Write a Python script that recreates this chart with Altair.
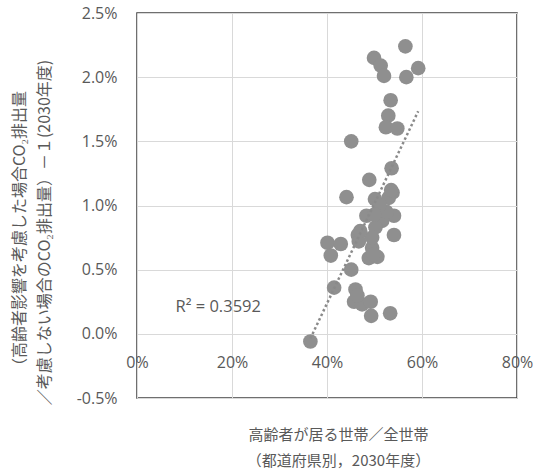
import altair as alt
import pandas as pd

# Share of households with elderly members (fraction) per prefecture
elderly_share = [
    0.565, 0.499, 0.513, 0.520, 0.567, 0.592, 0.534, 0.529, 0.524, 0.548,
    0.451, 0.536, 0.489, 0.441, 0.501, 0.538, 0.541, 0.483, 0.516, 0.502,
    0.465, 0.541, 0.401, 0.429, 0.408, 0.467, 0.495, 0.488, 0.506, 0.451,
    0.415, 0.460, 0.457, 0.474, 0.492, 0.493, 0.533, 0.365, 0.530, 0.495,
    0.525, 0.510, 0.498, 0.535, 0.470, 0.500, 0.464,
]
# Relative change in CO2 emissions when elderly effects are considered (fraction)
co2_change = [
    0.0224, 0.0215, 0.0209, 0.0201, 0.0200, 0.0207, 0.0182, 0.0170, 0.0161, 0.0160,
    0.0150, 0.0129, 0.0120, 0.01065, 0.0105, 0.0110, 0.0092, 0.0092, 0.0088, 0.0083,
    0.0077, 0.0077, 0.0071, 0.0070, 0.0061, 0.0072, 0.0067, 0.0059, 0.0060, 0.0050,
    0.0036, 0.00345, 0.0025, 0.0023, 0.0025, 0.0014, 0.0016, -0.0006, 0.0106, 0.0075,
    0.0095, 0.0100, 0.0062, 0.0112, 0.0080, 0.0093, 0.0030,
]

r2_text = ["R² = 0.3592"]
r2_x = [0.171]
r2_y = [0.0021]

x_ticks = [0.0, 0.2, 0.4, 0.6, 0.8]
y_ticks = [-0.005, 0.0, 0.005, 0.01, 0.015, 0.02, 0.025]

df = pd.DataFrame({"share": elderly_share, "change": co2_change})
label_df = pd.DataFrame({"text": r2_text, "share": r2_x, "change": r2_y})

label_font = "Open Sans"
cjk_font = "Noto Sans CJK JP"
text_color = "#595959"
point_color = "#8f8f8f"

x_scale = alt.Scale(domain=[0, 0.8], nice=False, zero=False)
y_scale = alt.Scale(domain=[-0.005, 0.025], nice=False, zero=False)

x_enc = alt.X(
    "share:Q",
    scale=x_scale,
    axis=alt.Axis(
        values=x_ticks,
        format=".0%",
        offset=-64,
        domain=False,
        ticks=False,
        grid=True,
        gridColor="#d9d9d9",
        gridWidth=1,
        labelFont=label_font,
        labelFontSize=16,
        labelColor=text_color,
        labelPadding=20,
        labelBaseline="top",
        labelFlush=False,
        title=["高齢者が居る世帯／全世帯", "（都道府県別，2030年度）"],
        titleFont=cjk_font,
        titleFontSize=15,
        titleFontWeight="normal",
        titleColor=text_color,
        titleLineHeight=26,
        titleX=201,
        titleY=93,
        titleBaseline="top",
        titleAlign="center",
    ),
)

y_enc = alt.Y(
    "change:Q",
    scale=y_scale,
    axis=alt.Axis(
        values=y_ticks,
        format=".1%",
        labelExpr="replace(datum.label, '−', '-')",
        domain=False,
        ticks=False,
        grid=True,
        gridColor="#d9d9d9",
        gridWidth=1,
        labelFont=label_font,
        labelFontSize=16,
        labelColor=text_color,
        labelPadding=20,
        title=[
            "（高齢者影響を考慮した場合CO₂排出量",
            "／考慮しない場合のCO₂排出量）－１(2030年度)",
        ],
        titleFont=cjk_font,
        titleFontSize=16,
        titleFontWeight="normal",
        titleColor=text_color,
        titleLineHeight=25,
        titleX=-126,
        titleY=219,
        titleBaseline="top",
        titleAlign="center",
        titleAngle=270,
    ),
)

points = alt.Chart(df).mark_circle(
    size=215, color=point_color, opacity=1
).encode(x=x_enc, y=y_enc)

trend = (
    alt.Chart(df)
    .transform_regression("share", "change")
    .mark_line(color="#8a8a8a", strokeWidth=2.5, strokeDash=[2.5, 2.5])
    .encode(x=alt.X("share:Q", scale=x_scale), y=alt.Y("change:Q", scale=y_scale))
)

r2 = alt.Chart(label_df).mark_text(
    font=label_font, fontSize=16.5, color=text_color, align="center", baseline="middle"
).encode(
    x=alt.X("share:Q", scale=x_scale),
    y=alt.Y("change:Q", scale=y_scale),
    text="text:N",
)

chart = (
    alt.layer(points, trend, r2)
    .properties(
        width=380,
        height=385,
        padding={"left": 137, "top": 13, "right": 16, "bottom": 73},
        autosize=alt.AutoSizeParams(type="none"),
        background="white",
    )
    .configure_view(stroke="#404040", strokeWidth=1.5)
)

chart.save("out.html", embed_options={"renderer": "svg", "actions": False})
